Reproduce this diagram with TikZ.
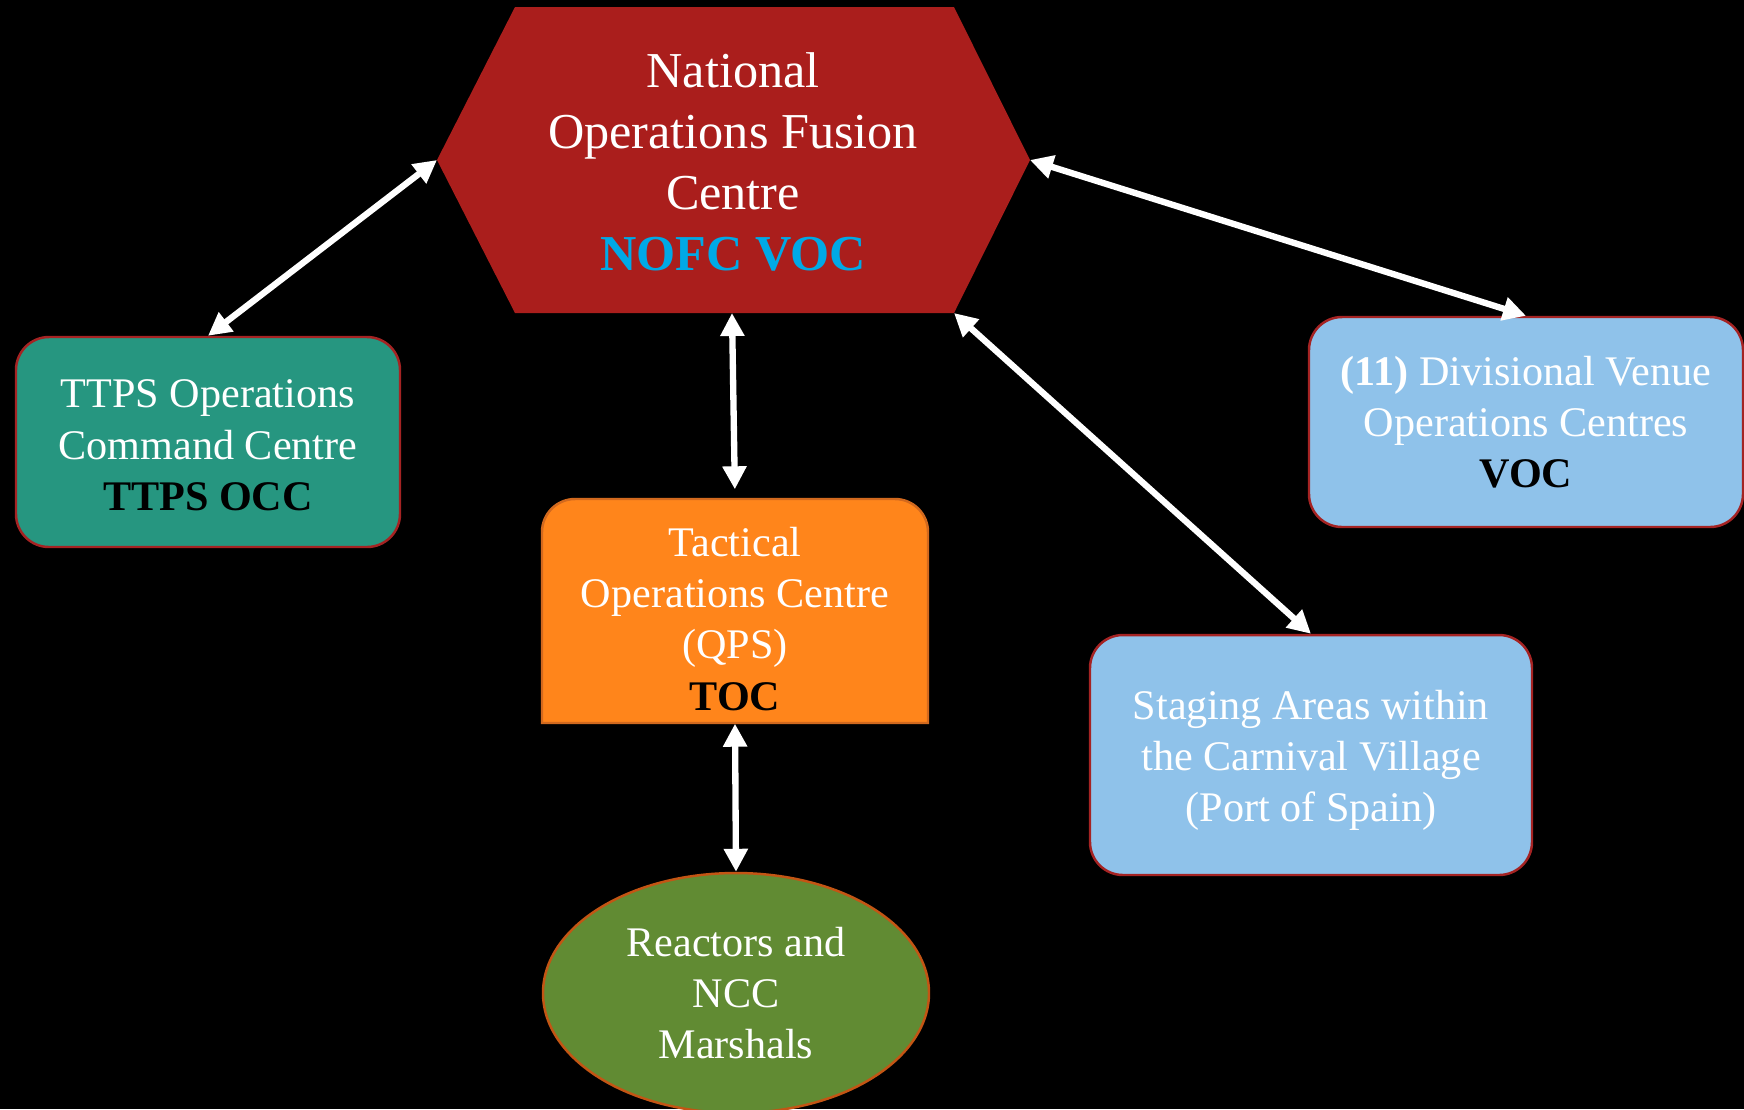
\documentclass[tikz,border=0pt]{standalone}
\usepackage{fontspec}
\setmainfont{Liberation Serif}
\usetikzlibrary{arrows.meta,shapes.geometric}

\definecolor{hexred}{RGB}{170,30,28}
\definecolor{nofcblue}{RGB}{0,169,230}
\definecolor{occgreen}{RGB}{38,150,128}
\definecolor{voclight}{RGB}{143,194,234}
\definecolor{boxedge}{RGB}{165,35,35}
\definecolor{tocorange}{RGB}{255,133,27}
\definecolor{tocedge}{RGB}{210,105,30}
\definecolor{reactgreen}{RGB}{97,139,51}
\definecolor{reactedge}{RGB}{195,85,20}

\begin{document}
\begin{tikzpicture}[x=0.1mm,y=-0.1mm,
    box/.style={rectangle,rounded corners=3.3mm,draw=boxedge,line width=0.7pt,
      align=center,text=white,font=\fontsize{12}{14.6}\selectfont},
    link/.style={draw=white,line width=1.8pt,
      {Triangle[length=2.3mm,width=2.3mm]}-{Triangle[length=2.3mm,width=2.3mm]}}]

  \fill[black] (0,0) rectangle (1744,1109);
  \useasboundingbox (0,0) rectangle (1744,1109);

  % fusion centre
  \fill[hexred] (437,160) coordinate (nofcW) -- (515,7) -- (954,7)
    -- (1030,160) coordinate (nofcE) -- (954,313) coordinate (nofcSE)
    -- (515,313) -- cycle;
  \coordinate (nofcS) at (732,313);
  \node[align=center,text=white,font=\fontsize{14.3}{17.3}\selectfont] (nofc) at (733,162)
    {National\\Operations Fusion\\Centre\\\textcolor{nofcblue}{\textbf{NOFC VOC}}};

  % centres
  \node[box,fill=occgreen,minimum width=38.4mm,minimum height=21mm] (ttps) at (208,442)
    {\rule{0pt}{3.5mm}TTPS Operations\\Command Centre\\\textcolor{black}{\textbf{TTPS OCC}}};
  \node[box,fill=voclight,minimum width=43.4mm,minimum height=21mm] (voc) at (1526,422)
    {\textbf{(11)} Divisional Venue\\Operations Centres\\\textcolor{black}{\textbf{VOC}}};
  \node[box,fill=voclight,minimum width=44.2mm,minimum height=24mm] (staging) at (1311,755)
    {\rule{0pt}{4mm}Staging Areas within\\the Carnival Village\\(Port of Spain)};

  % tactical centre, top corners only rounded
  \filldraw[fill=tocorange,draw=tocedge,line width=0.7pt] (542,723) -- (542,532)
    arc[start angle=180,end angle=90,radius=3.3mm] -- (895,499)
    arc[start angle=90,end angle=0,radius=3.3mm] -- (928,723) -- cycle;
  \node[align=center,text=white,font=\fontsize{12}{14.6}\selectfont,
    minimum width=38.6mm,minimum height=22.4mm] (toc) at (735,611)
    {\rule{0pt}{4.45mm}Tactical\\Operations Centre\\(QPS)\\\textcolor{black}{\textbf{TOC}}};

  \node[ellipse,draw=reactedge,fill=reactgreen,line width=0.7pt,inner sep=0pt,
    minimum width=38.6mm,minimum height=24mm,align=center,text=white,
    font=\fontsize{12}{14.6}\selectfont] (react) at (736,993)
    {Reactors and\\NCC\\Marshals};

  % links
  \draw[link] (nofcW) -- (ttps.north);
  \draw[link,shorten >=0.9mm] (nofcS) -- (toc.north);
  \draw[link] (toc.south) -- (react.north);
  \draw[link] (nofcSE) -- (staging.north);
  \draw[link] (nofcE) -- (voc.north);

\end{tikzpicture}
\end{document}
